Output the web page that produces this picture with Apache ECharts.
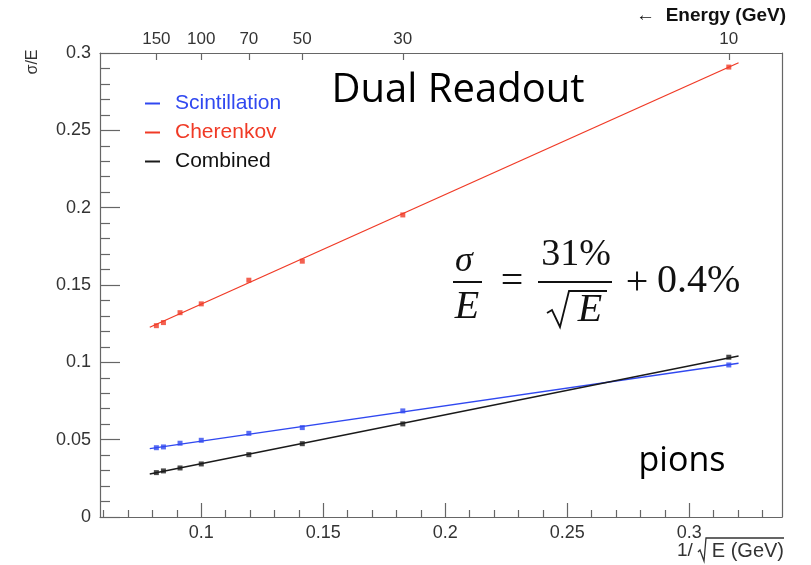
<!DOCTYPE html>
<html><head><meta charset="utf-8">
<script src="https://cdn.jsdelivr.net/npm/echarts@6/dist/echarts.min.js"></script>
<style>html,body{margin:0;padding:0;background:#fff}#c{width:811px;height:565px}</style>
</head><body><div id="c"></div>
<script>
// ---- data ----
const energies = [150, 140, 120, 100, 70, 50, 30, 10];
const xValues = [0.0816, 0.0845, 0.0913, 0.1, 0.1195, 0.1414, 0.1826, 0.3162]; // 1/sqrt(E)
const scintillation = [0.0448, 0.0453, 0.0477, 0.0496, 0.0541, 0.0578, 0.0686, 0.0983];
const cherenkov = [0.1237, 0.1257, 0.1321, 0.1378, 0.1531, 0.1654, 0.1953, 0.2909];
const combined = [0.0287, 0.0298, 0.0317, 0.0343, 0.0403, 0.0474, 0.0602, 0.1033];
// fitted lines (end points)
const fitX = [0.0789, 0.3202];
const fitScint = [0.0442, 0.0994];
const fitCher = [0.1227, 0.2937];
const fitComb = [0.0278, 0.1041];
// axis ticks
const xMajor = [0.1, 0.15, 0.2, 0.25, 0.3];
const xMinor = [0.06, 0.07, 0.08, 0.09, 0.11, 0.12, 0.13, 0.14, 0.16, 0.17, 0.18, 0.19, 0.21, 0.22, 0.23, 0.24, 0.26, 0.27, 0.28, 0.29, 0.31, 0.32, 0.33];
const energyTickLabels = ['150', '100', '70', '50', '30', '10'];
const energyTickPos = [0.0816, 0.1, 0.1195, 0.1414, 0.1826, 0.3162];
const seriesNames = ['Scintillation', 'Cherenkov', 'Combined'];

const X_MIN = 0.0585, X_MAX = 0.338;
const AX = '#666';
const BLUE = '#3048f0', RED = '#f03a26', BLACK = '#1a1a1a';
const SANS = '"Liberation Sans", Arial, Helvetica, sans-serif';
const SERIF = '"Liberation Serif", "Times New Roman", serif';
const CAL = '"Open Sans", "Noto Sans", sans-serif';

const pts = arr => xValues.map((x, i) => [x, arr[i]]);
const fit = arr => fitX.map((x, i) => [x, arr[i]]);

const chart = echarts.init(document.getElementById('c'), null, {renderer: 'canvas'});
const lbl = {color: '#333', fontFamily: SANS, fontSize: 18};

chart.setOption({
  animation: false,
  backgroundColor: '#fff',
  grid: {left: 100, right: 29, top: 53, bottom: 48, containLabel: false},
  xAxis: [
    {type: 'value', position: 'bottom', min: X_MIN, max: X_MAX,
     axisLine: {show: true, onZero: false, lineStyle: {color: AX, width: 1.2}},
     axisTick: {show: true, inside: true, length: 14, customValues: xMajor, lineStyle: {color: AX, width: 1.2}},
     axisLabel: Object.assign({customValues: xMajor, margin: 7, formatter: v => String(+(+v).toFixed(2))}, lbl),
     splitLine: {show: false}},
    {type: 'value', position: 'bottom', min: X_MIN, max: X_MAX,
     axisLine: {show: false, onZero: false},
     axisTick: {show: true, inside: true, length: 7, customValues: xMinor, lineStyle: {color: AX, width: 1.2}},
     axisLabel: {show: false}, splitLine: {show: false}},
    {type: 'value', position: 'top', min: X_MIN, max: X_MAX,
     axisLine: {show: true, onZero: false, lineStyle: {color: AX, width: 1.2}},
     axisTick: {show: true, inside: true, length: 7, customValues: energyTickPos, lineStyle: {color: AX, width: 1.2}},
     axisLabel: Object.assign({customValues: energyTickPos, margin: 5,
       formatter: v => {
         let best = 0;
         energyTickPos.forEach((p, i) => { if (Math.abs(p - v) < Math.abs(energyTickPos[best] - v)) best = i; });
         return energyTickLabels[best];
       }}, lbl, {fontSize: 17}),
     splitLine: {show: false}}
  ],
  yAxis: [
    {type: 'value', position: 'left', min: 0, max: 0.3, interval: 0.05,
     axisLine: {show: true, onZero: false, lineStyle: {color: AX, width: 1.2}},
     axisTick: {show: true, inside: true, length: 20, lineStyle: {color: AX, width: 1.2}},
     minorTick: {show: true, splitNumber: 5, length: 10, lineStyle: {color: AX, width: 1.2}},
     axisLabel: Object.assign({margin: 9}, lbl),
     splitLine: {show: false}},
    {type: 'value', position: 'right', min: 0, max: 0.3,
     axisLine: {show: true, onZero: false, lineStyle: {color: AX, width: 1.2}},
     axisTick: {show: false}, axisLabel: {show: false}, splitLine: {show: false}}
  ],
  legend: {
    orient: 'vertical', left: 140, top: 87, itemGap: 6,
    icon: 'rect', itemWidth: 15, itemHeight: 2,
    textStyle: {fontFamily: SANS, fontSize: 21, lineHeight: 23, padding: [0, 0, 0, 10]},
    data: [
      {name: seriesNames[0], textStyle: {color: BLUE}},
      {name: seriesNames[1], textStyle: {color: RED}},
      {name: seriesNames[2], textStyle: {color: '#111'}}
    ]
  },
  series: [
    {name: seriesNames[0], type: 'line', data: fit(fitScint), showSymbol: false, color: BLUE, lineStyle: {width: 1.3, color: BLUE}},
    {name: seriesNames[1], type: 'line', data: fit(fitCher), showSymbol: false, color: RED, lineStyle: {width: 1.3, color: RED}},
    {name: seriesNames[2], type: 'line', data: fit(fitComb), showSymbol: false, color: BLACK, lineStyle: {width: 1.3, color: BLACK}},
    {name: 'Scintillation points', type: 'scatter', data: pts(scintillation), symbol: 'rect', symbolSize: 5, itemStyle: {color: BLUE}},
    {name: 'Cherenkov points', type: 'scatter', data: pts(cherenkov), symbol: 'rect', symbolSize: 5, itemStyle: {color: RED}},
    {name: 'Combined points', type: 'scatter', data: pts(combined), symbol: 'rect', symbolSize: 5, itemStyle: {color: BLACK}}
  ],
  graphic: [
    {type: 'text', x: 786, y: 16, style: {text: '\u2190  Energy (GeV)', font: 'bold 19px ' + SANS, fill: '#111', align: 'right', verticalAlign: 'middle'}},
    {type: 'text', x: 33, y: 62, rotation: Math.PI / 2, style: {text: '\u03c3/E', font: '16px ' + SANS, fill: '#333', align: 'center', verticalAlign: 'middle'}},
    // x axis title: 1/ sqrt(E (GeV))
    {type: 'text', x: 677, y: 551, style: {text: '1/', font: '19px ' + SANS, fill: '#333', align: 'left', verticalAlign: 'middle'}},
    {type: 'polyline', shape: {points: [[698, 552], [700, 550], [704, 561], [706, 538], [784, 538]]}, style: {stroke: '#333', lineWidth: 1.3, fill: null}},
    {type: 'text', x: 784, y: 551, style: {text: 'E (GeV)', font: '20px ' + SANS, fill: '#333', align: 'right', verticalAlign: 'middle'}},
    {type: 'text', x: 458, y: 91, style: {text: 'Dual Readout', font: '40px ' + CAL, fill: '#000', align: 'center', verticalAlign: 'middle'}},
    {type: 'text', x: 682, y: 461, style: {text: 'pions', font: '34px ' + CAL, fill: '#000', align: 'center', verticalAlign: 'middle'}},
    // formula
    {type: 'text', x: 464, y: 262, style: {text: '\u03c3', font: 'italic 36px ' + SERIF, fill: '#111', align: 'center', verticalAlign: 'middle'}},
    {type: 'line', shape: {x1: 453, y1: 282, x2: 482, y2: 282}, style: {stroke: '#111', lineWidth: 2}},
    {type: 'text', x: 467, y: 307, style: {text: 'E', font: 'italic 40px ' + SERIF, fill: '#111', align: 'center', verticalAlign: 'middle'}},
    {type: 'text', x: 512, y: 282, style: {text: '=', font: '40px ' + SERIF, fill: '#111', align: 'center', verticalAlign: 'middle'}},
    {type: 'text', x: 576, y: 255, style: {text: '31%', font: '38px ' + SERIF, fill: '#111', align: 'center', verticalAlign: 'middle'}},
    {type: 'line', shape: {x1: 538, y1: 282, x2: 612, y2: 282}, style: {stroke: '#111', lineWidth: 2}},
    {type: 'polyline', shape: {points: [[547, 313], [552, 310], [560, 327], [569, 291], [607, 291]]}, style: {stroke: '#111', lineWidth: 1.8, fill: null}},
    {type: 'text', x: 590, y: 310, style: {text: 'E', font: 'italic 40px ' + SERIF, fill: '#111', align: 'center', verticalAlign: 'middle'}},
    {type: 'text', x: 637, y: 283, style: {text: '+', font: '40px ' + SERIF, fill: '#111', align: 'center', verticalAlign: 'middle'}},
    {type: 'text', x: 657, y: 281, style: {text: '0.4%', font: '40px ' + SERIF, fill: '#111', align: 'left', verticalAlign: 'middle'}}
  ]
});
</script>
</body></html>
